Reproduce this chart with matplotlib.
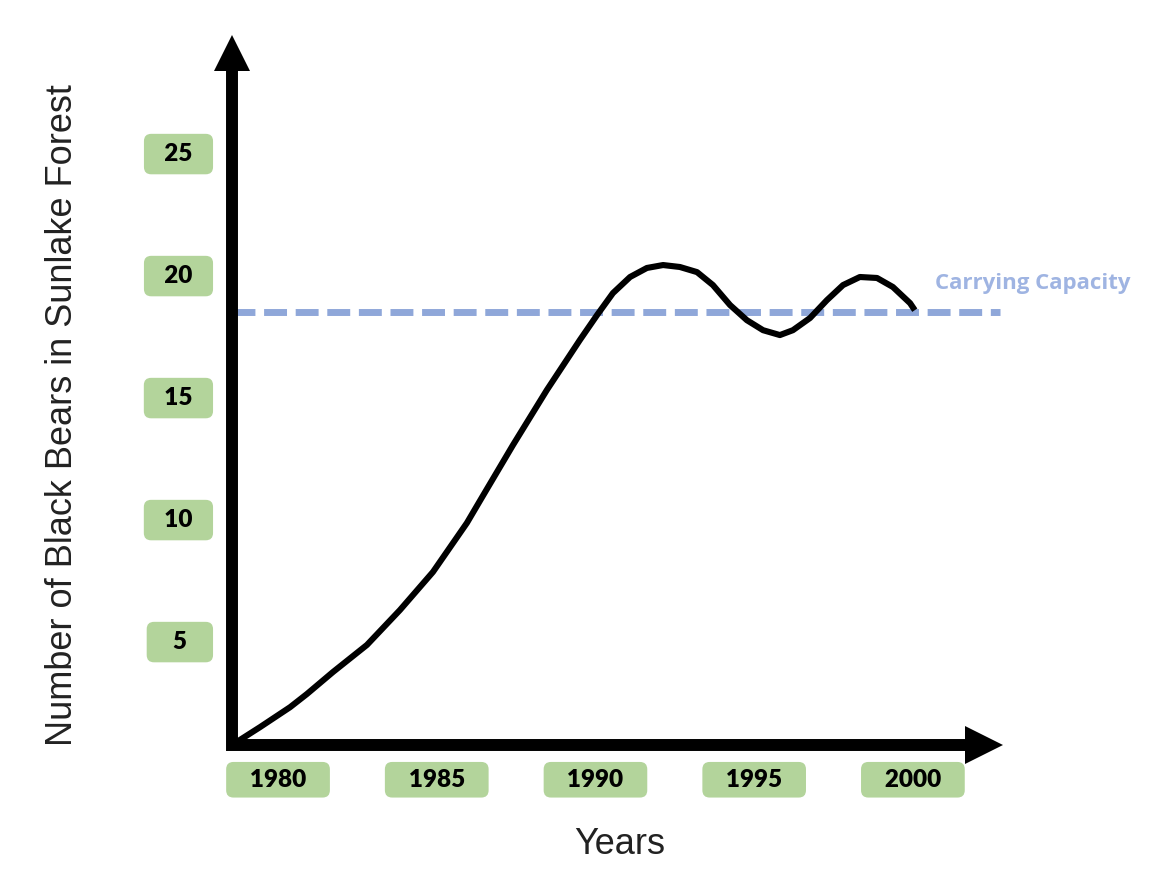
import matplotlib
matplotlib.use("Agg")
from matplotlib import pyplot as plt

# curve
years = [1978.55, 1979.43, 1980.38, 1980.91, 1981.73, 1982.80, 1983.84, 1984.88,
         1985.95, 1986.43, 1987.40, 1988.47, 1989.51, 1990.05, 1990.55, 1991.09,
         1991.62, 1992.13, 1992.66, 1993.20, 1993.70, 1994.24, 1994.77, 1995.28,
         1995.81, 1996.22, 1996.76, 1997.29, 1997.80, 1998.33, 1998.87, 1999.37,
         1999.91, 2000.06]
bears = [0.70, 1.43, 2.25, 2.79, 3.69, 4.80, 6.23, 7.79,
         9.80, 10.86, 12.99, 15.25, 17.30, 18.32, 19.22, 19.88,
         20.25, 20.37, 20.29, 20.08, 19.55, 18.73, 18.11, 17.70,
         17.50, 17.70, 18.20, 18.93, 19.55, 19.88, 19.84, 19.47,
         18.81, 18.52]
carrying_capacity = 18.44
x_ticks = [1980, 1985, 1990, 1995, 2000]
y_ticks = [5, 10, 15, 20, 25]

green = "#b3d49b"
dash_blue = "#8fa7d9"
label_blue = "#9fb4e2"

W, H = 1152, 882
fig = plt.figure(figsize=(W / 100, H / 100), dpi=100)
ax = fig.add_axes([232 / W, (H - 745) / H, (984 - 232) / W, (745 - 53) / H])
ax.set_xlim(1978.55, 2002.24)
ax.set_ylim(0.70, 29.06)
for s in ax.spines.values():
    s.set_visible(False)

# axes with arrow heads
ax.plot([0, 0, 1], [1, 0, 0], transform=ax.transAxes, color="black", lw=8.6,
        solid_joinstyle="miter", clip_on=False, zorder=3)
ax.plot([0], [1], marker="^", ms=26, mew=0, color="black",
        transform=ax.transAxes, clip_on=False, zorder=3)
ax.plot([1], [0], marker=">", ms=28, mew=0, color="black",
        transform=ax.transAxes, clip_on=False, zorder=3)

ax.axhline(carrying_capacity, xmin=0, xmax=1.021, color=dash_blue, lw=5,
           linestyle=(0, (3.3, 1.25)), clip_on=False, zorder=1)
ax.plot(years, bears, color="black", lw=4.4, solid_capstyle="butt",
        solid_joinstyle="round", zorder=2)

ax.text(2000.69, 19.63, "Carrying Capacity", color=label_blue, fontsize=16,
        fontweight="bold", family="Open Sans", ha="left", va="center")

ax.set_xticks(x_ticks)
ax.set_xticklabels(["   %d   " % t for t in x_ticks])
ax.set_yticks(y_ticks)
ax.set_yticklabels([("  %d  " if t >= 10 else "   %d   ") % t for t in y_ticks])
ax.tick_params(axis="both", length=0)
ax.tick_params(axis="x", pad=17.1)
ax.tick_params(axis="y", pad=20.3)
for lab in ax.get_xticklabels():
    lab.set_fontsize(17.5)
    lab.set_fontweight("heavy")
    lab.set_family("Lato")
    lab.set_bbox(dict(boxstyle="round,pad=0.28,rounding_size=0.3", fc=green, ec="none"))
for lab in ax.get_yticklabels():
    lab.set_fontsize(17.5)
    lab.set_fontweight("heavy")
    lab.set_family("Lato")
    lab.set_bbox(dict(boxstyle="round,pad=0.38,rounding_size=0.3", fc=green, ec="none"))

ax.set_xlabel("Years", fontsize=26, family="Liberation Sans", color="#222222")
ax.xaxis.set_label_coords(0.516, -0.1445)
ax.xaxis.label.set_va("center")
ax.set_ylabel("Number of Black Bears in Sunlake Forest", fontsize=26,
              family="Liberation Sans", color="#222222")
ax.yaxis.set_label_coords(-0.226, 0.477)
ax.yaxis.label.set_va("center")

fig.savefig("out.png", dpi=100)
